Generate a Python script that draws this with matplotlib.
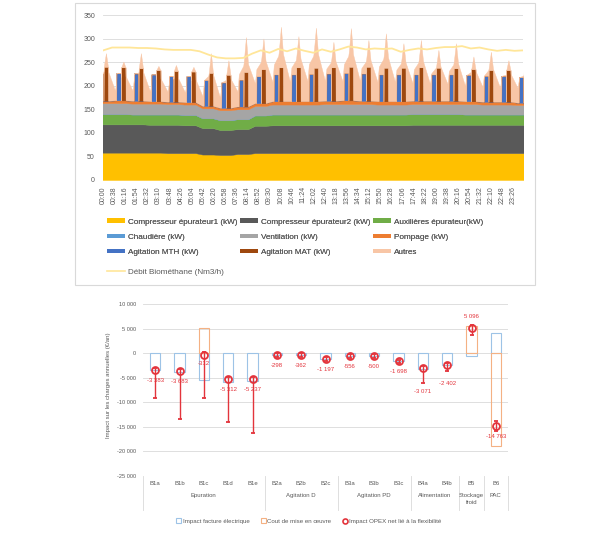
import numpy as np
import matplotlib
matplotlib.use('Agg')
import matplotlib.pyplot as plt
from matplotlib.lines import Line2D
from matplotlib.patches import Patch, Rectangle
import matplotlib.transforms as mtransforms
from matplotlib.ticker import FuncFormatter

plt.rcParams['font.family'] = ['Liberation Sans', 'DejaVu Sans']
GRAY_TXT = '#595959'
GRID = '#D9D9D9'

# ===================== TOP CHART DATA (kW per hourly agitation cycle) =====================
cycle_hour = list(range(25))
comp1 = [58, 58, 58, 58, 57, 57, 54, 53, 55, 57, 57, 57, 57, 57, 57, 57, 57, 57, 57, 57, 57, 57, 57, 57, 57]
comp2 = [60, 60, 60, 59, 60, 59, 56, 53, 53, 58, 59, 59, 59, 59, 59, 59, 59, 59, 60, 60, 60, 60, 60, 60, 60]
aux = [22, 22, 21, 22, 22, 22, 21, 21, 21, 22, 23, 23, 23, 23, 23, 23, 23, 23, 23, 23, 23, 22, 22, 22, 22]
chaud = [0, 0, 0, 0, 0, 0, 0, 0, 0, 0, 0, 0, 0, 0, 0, 0, 0, 0, 0, 0, 0, 0, 0, 0, 0]
vent = [23, 23, 23, 23, 22, 22, 21, 21, 21, 20, 21, 21, 21, 22, 22, 22, 21, 21, 21, 21, 21, 22, 21, 21, 20]
pomp = [5, 6, 6, 5, 5, 5, 5, 5, 6, 6, 7, 7, 7, 7, 8, 7, 7, 7, 7, 7, 7, 6, 6, 6, 5]
mth = [58, 58, 58, 57, 55, 55, 55, 54, 57, 57, 57, 57, 58, 58, 58, 58, 57, 57, 56, 56, 56, 56, 55, 55, 54]
mat = [72, 70, 69, 66, 65, 65, 70, 70, 73, 72, 72, 72, 71, 71, 71, 72, 71, 71, 71, 70, 69, 68, 67, 67, 67]
# total height of the stack (top of "Autres") between and at the peaks
autres_valley_top = [192, 190, 190, 188, 188, 186, 178, 175, 188, 205, 208, 208, 210, 210, 210, 210, 208, 208,
                     206, 204, 204, 200, 198, 196, 196]
autres_peak_top = [269, 251, 269, 242, 244, 240, 269, 254, 303, 300, 325, 305, 323, 293, 322, 297, 311, 290,
                   297, 276, 290, 262, 272, 254, 250]
# within-hour pattern: (minute offset, share of the Autres peak, MTH running, MAT running)
cycle_profile = [(-20, 0.0, 0, 0), (-15.5, 0.30, 0, 0), (-15, 0.32, 1, 0), (-0.5, 0.47, 1, 0),
                 (0, 0.48, 0, 0), (1, 0.52, 0, 0), (1.5, 0.54, 0, 1), (9, 1.0, 0, 1),
                 (16, 0.52, 0, 1), (16.5, 0.50, 0, 0)]

bio_minutes = [0, 30, 60, 90, 120, 150, 180, 210, 240, 270, 300, 330, 360, 390, 420, 450, 480, 510, 540,
               570, 600, 630, 660, 690, 720, 750, 780, 810, 840, 870, 900, 930, 960, 990, 1020, 1050,
               1080, 1110, 1140, 1170, 1200, 1230, 1260, 1290, 1320, 1350, 1380, 1410, 1440]
biomethane = [275, 281, 281, 281, 280, 280, 279, 277, 276, 276, 276, 273, 266, 260, 258, 258, 259, 268, 275,
              270, 278, 273, 279, 274, 270, 277, 272, 277, 283, 281, 277, 279, 278, 279, 272, 276,
              279, 277, 280, 282, 282, 284, 279, 281, 277, 274, 276, 274, 275]

time_labels = ['00:00', '00:38', '01:16', '01:54', '02:32', '03:10', '03:48', '04:26', '05:04', '05:42',
               '06:20', '06:58', '07:36', '08:14', '08:52', '09:30', '10:08', '10:46', '11:24', '12:02',
               '12:40', '13:18', '13:56', '14:34', '15:12', '15:50', '16:28', '17:06', '17:44', '18:22',
               '19:00', '19:38', '20:16', '20:54', '21:32', '22:10', '22:48', '23:26']

top_names = ['Compresseur épurateur1 (kW)', 'Compresseur épurateur2 (kW)', 'Auxilières épurateur(kW)',
             'Chaudière (kW)', 'Ventilation (kW)', 'Pompage (kW)', 'Agitation MTH (kW)',
             'Agitation MAT (kW)', 'Autres']
top_colors = ['#FFC000', '#595959', '#70AD47', '#5B9BD5', '#A5A5A5', '#ED7D31', '#4472C4', '#9E480E', '#F8C6A6']
bio_name = 'Débit Biométhane (Nm3/h)'
bio_color = '#FFE699'

# ===================== BOTTOM CHART DATA (€/an) =====================
categories = ['B1a', 'B1b', 'B1c', 'B1d', 'B1e', 'B2a', 'B2b', 'B2c', 'B3a', 'B3b', 'B3c', 'B4a', 'B4b', 'B5', 'B6']
groups = ['Epuration', 'Agitation D', 'Agitation PD', 'Alimentation', 'Stockage\nfroid', 'PAC']
group_sizes = [5, 3, 3, 2, 1, 1]
facture = [-3500, -3850, -5450, -5850, -5700, -300, -360, -1220, -560, -500, -1700, -3270, -2400, -500, 4100]
cout = [0, 0, 5100, 0, 0, 0, 0, 0, 0, 0, 0, 0, 0, 5600, -18860]
opex_net = [-3383, -3683, -312, -5312, -5237, -298, -362, -1197, -556, -500, -1698, -3071, -2402, 5096, -14763]
opex_low = [-9200, -13400, -9100, -14000, -16300, -700, -760, -1600, -950, -900, -2100, -6000, -3600, 3700, -15800]
opex_high = [-2950, -3250, 150, -4850, -4800, 100, 40, -800, -150, -100, -1300, -2650, -2000, 5700, -13800]
bottom_legend = ['Impact facture électrique', 'Cout de mise en œuvre', 'Impact OPEX net lié à la flexibilité']
label_dy = [-7.5, -7.5, -6.5, -7.5, -7.5, -7.5, -7.5, -7.5, -7.5, -7.5, -7.5, -16.5, -13.5, 8.5, -7.5]

# ===================== FIGURE =====================
fig = plt.figure(figsize=(6.0, 5.33), dpi=100)
W, H = 600.0, 533.0

def fx(px):
    return px / W

def fy(py):
    return (H - py) / H

# frame around the top chart
fig.add_artist(Rectangle((fx(75), fy(285)), fx(535) - fx(75), fy(3) - fy(285), transform=fig.transFigure,
                         fill=False, edgecolor=GRID, lw=0.8))

# ---------- top chart ----------
ax1 = fig.add_axes([fx(103.3), fy(180), fx(523.3) - fx(103.3), fy(15) - fy(180)])
xs = []
layers = [[] for _ in range(9)]
for k in cycle_hour:
    base = [comp1[k], comp2[k], aux[k], chaud[k], vent[k], pomp[k]]
    below = sum(base)
    for off, share, m1, m2 in cycle_profile:
        xs.append(60 * k + off)
        for i, v in enumerate(base):
            layers[i].append(v)
        layers[6].append(mth[k] * m1)
        layers[7].append(mat[k] * m2)
        env = autres_valley_top[k] + share * (autres_peak_top[k] - autres_valley_top[k])
        layers[8].append(max(env - below - mth[k] * m1 - mat[k] * m2, 0))

ax1.stackplot(xs, *layers, colors=top_colors, linewidth=0.3, edgecolor='face')
ax1.plot(bio_minutes, biomethane, color=bio_color, lw=1.3)
ax1.set_xlim(0, 1440)
ax1.set_ylim(0, 350)
ax1.set_yticks(range(0, 351, 50))
tick_pos = [int(t[:2]) * 60 + int(t[3:]) for t in time_labels]
ax1.set_xticks(tick_pos)
ax1.set_xticklabels(time_labels, rotation=90, fontsize=5.0, color=GRAY_TXT)
ax1.tick_params(axis='x', length=0, pad=4.5)
ax1.tick_params(axis='y', length=0, pad=6.0, labelsize=5.0, labelcolor=GRAY_TXT)
ax1.yaxis.grid(True, color=GRID, lw=0.6)
ax1.set_axisbelow(True)
for s in ax1.spines.values():
    s.set_visible(False)

handles_a = [Patch(facecolor=c, edgecolor='none') for c in top_colors]
order = [0, 3, 6, 1, 4, 7, 2, 5, 8]
leg1 = fig.legend([handles_a[i] for i in order], [top_names[i] for i in order], loc='upper left',
                  bbox_to_anchor=(fx(106.7), fy(218.5)), ncol=3, frameon=False, fontsize=5.9,
                  handlelength=2.23, handleheight=0.45, handletextpad=0.33, columnspacing=0.3,
                  labelspacing=0.97, borderpad=0, borderaxespad=0, labelcolor=GRAY_TXT)
fig.add_artist(leg1)
fig.legend([Line2D([], [], color=bio_color, lw=1.2)], [bio_name], loc='upper left',
           bbox_to_anchor=(fx(106.7), fy(267.8)), frameon=False, fontsize=5.9,
           handlelength=2.23, handletextpad=0.33, borderpad=0, borderaxespad=0, labelcolor=GRAY_TXT)

# ---------- bottom chart ----------
ax2 = fig.add_axes([fx(143), fy(476), fx(508) - fx(143), fy(304) - fy(476)])
xpos = np.arange(len(categories))
BLUE, ORANGE, RED = '#9DC3E6', '#F4B183', '#E3343C'
ax2.bar(xpos, facture, width=0.42, fill=False, edgecolor=BLUE, lw=0.8, zorder=2)
nz = [i for i, v in enumerate(cout) if v != 0]
ax2.bar([xpos[i] for i in nz], [cout[i] for i in nz], width=0.42, fill=False, edgecolor=ORANGE, lw=0.8, zorder=2)
net = np.array(opex_net)
yerr = [net - np.array(opex_low), np.array(opex_high) - net]
ax2.errorbar(xpos, net, yerr=yerr, fmt='o', mfc='none', mec=RED, ecolor=RED, ms=5.0, mew=1.3,
             elinewidth=1.0, capsize=1.4, capthick=0.8, zorder=3)
for i, v in enumerate(opex_net):
    ax2.annotate(f'{v:,}'.replace(',', ' '), (xpos[i], v), xytext=(0, label_dy[i]),
                 textcoords='offset points', ha='center', va='center', fontsize=4.3, color=RED)

ax2.set_xlim(-0.5, len(categories) - 0.5)
ax2.set_ylim(-25000, 10000)
ax2.set_yticks(range(-25000, 10001, 5000))
ax2.yaxis.set_major_formatter(FuncFormatter(lambda v, p: f'{int(v):,}'.replace(',', ' ')))
ax2.tick_params(axis='y', length=0, pad=5.0, labelsize=4.1, labelcolor=GRAY_TXT)
ax2.set_xticks(xpos)
ax2.set_xticklabels(categories, fontsize=4.3, color=GRAY_TXT)
ax2.tick_params(axis='x', length=0, pad=3.6)
ax2.yaxis.grid(True, color=GRID, lw=0.6)
ax2.set_axisbelow(True)
for s in ax2.spines.values():
    s.set_visible(False)
ax2.set_ylabel('Impact sur les charges annuelles (€/an)', fontsize=4.3, color=GRAY_TXT)
ax2.yaxis.set_label_coords(-0.0877, 0.529)

trans = mtransforms.blended_transform_factory(ax2.transData, ax2.transAxes)
start = -0.5
ax2.plot([start, start], [0, -0.198], transform=trans, color=GRID, lw=0.6, clip_on=False)
for name, n in zip(groups, group_sizes):
    end = start + n
    ax2.text((start + end) / 2, -0.100, name, transform=trans, ha='center', va='top', fontsize=4.3,
             color=GRAY_TXT, linespacing=1.55)
    ax2.plot([end, end], [0, -0.198], transform=trans, color=GRID, lw=0.6, clip_on=False)
    start = end

h_b = [Patch(facecolor='none', edgecolor=BLUE, lw=0.8), Patch(facecolor='none', edgecolor=ORANGE, lw=0.8),
       Line2D([], [], ls='none', marker='o', mfc='none', mec=RED, ms=3.6, mew=1.2)]
fig.legend(h_b, bottom_legend, loc='center', bbox_to_anchor=(fx(309), fy(521)), ncol=3, frameon=False,
           fontsize=4.4, handlelength=0.75, handleheight=0.75, handletextpad=0.3, columnspacing=1.9,
           labelcolor=GRAY_TXT)

fig.savefig('out.png', dpi=100, facecolor='white')
